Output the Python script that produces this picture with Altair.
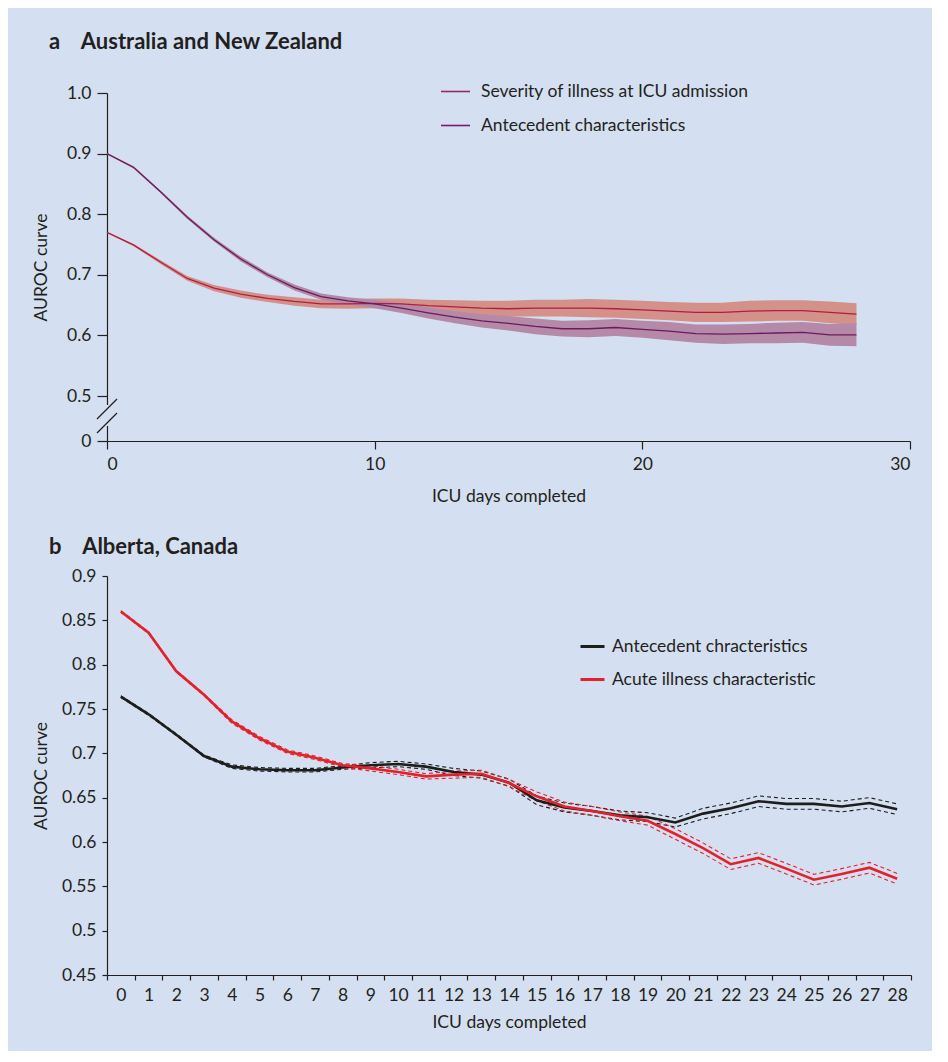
import altair as alt
import pandas as pd

BG = "#d4e0f1"
TXT = "#231f20"
FONT = "Lato"
FS = 17.5

# ---------------- Panel a: Australia and New Zealand ----------------
days_a = list(range(29))
# purple line (starts high)
ant_a = [0.900, 0.877, 0.837, 0.795, 0.758, 0.726, 0.700, 0.679, 0.664, 0.657,
         0.652, 0.645, 0.637, 0.630, 0.624, 0.620, 0.615, 0.611, 0.611, 0.613,
         0.610, 0.607, 0.603, 0.602, 0.603, 0.604, 0.605, 0.601, 0.601]
ant_a_hw = [0.001, 0.002, 0.002, 0.003, 0.003, 0.004, 0.004, 0.005, 0.005, 0.006,
            0.007, 0.008, 0.009, 0.010, 0.011, 0.012, 0.013, 0.013, 0.014, 0.014,
            0.014, 0.015, 0.015, 0.016, 0.016, 0.017, 0.017, 0.018, 0.019]
# red line (starts lower)
sev_a = [0.770, 0.749, 0.721, 0.694, 0.678, 0.668, 0.661, 0.656, 0.652, 0.652,
         0.653, 0.652, 0.649, 0.647, 0.645, 0.644, 0.645, 0.645, 0.645, 0.644,
         0.642, 0.640, 0.638, 0.638, 0.640, 0.641, 0.641, 0.638, 0.635]
sev_a_hw = [0.001, 0.002, 0.003, 0.004, 0.005, 0.006, 0.006, 0.007, 0.007, 0.008,
            0.008, 0.009, 0.010, 0.011, 0.012, 0.013, 0.014, 0.014, 0.015, 0.015,
            0.015, 0.015, 0.016, 0.016, 0.017, 0.017, 0.017, 0.018, 0.018]
series_a = ["Severity of illness at ICU admission", "Antecedent characteristics"]
line_colors_a = ["#b01e42", "#6b1a5e"]
band_colors_a = ["#d4918a", "#b48aa8"]
legend_colors_a = ["#922a6c", "#7a1a6a"]
x_ticks_a = [0, 10, 20, 30]
y_ticks_a = [0, 0.5, 0.6, 0.7, 0.8, 0.9, 1.0]

# ---------------- Panel b: Alberta, Canada ----------------
days_b = list(range(29))
ant_b = [0.764, 0.744, 0.721, 0.697, 0.685, 0.682, 0.681, 0.681, 0.684, 0.6865,
         0.688, 0.685, 0.679, 0.676, 0.667, 0.647, 0.639, 0.635, 0.630, 0.628,
         0.622, 0.632, 0.638, 0.646, 0.643, 0.643, 0.640, 0.644, 0.637]
ant_b_hw = [0.001, 0.001, 0.001, 0.001, 0.002, 0.002, 0.002, 0.002, 0.002, 0.003,
            0.003, 0.003, 0.004, 0.004, 0.004, 0.005, 0.005, 0.005, 0.005, 0.005,
            0.005, 0.006, 0.006, 0.006, 0.006, 0.006, 0.006, 0.006, 0.006]
acu_b = [0.860, 0.836, 0.7925, 0.766, 0.736, 0.717, 0.702, 0.695, 0.6865, 0.683,
         0.679, 0.674, 0.676, 0.677, 0.6665, 0.6515, 0.640, 0.635, 0.629, 0.624,
         0.609, 0.593, 0.575, 0.582, 0.570, 0.5575, 0.564, 0.571, 0.5586]
acu_b_hw = [0.001, 0.001, 0.001, 0.001, 0.002, 0.002, 0.002, 0.002, 0.002, 0.003,
            0.003, 0.003, 0.004, 0.004, 0.004, 0.005, 0.005, 0.005, 0.005, 0.005,
            0.006, 0.006, 0.006, 0.006, 0.006, 0.006, 0.006, 0.006, 0.006]
series_b = ["Antecedent chracteristics", "Acute illness characteristic"]
line_colors_b = ["#1d1d1b", "#e3212b"]
y_ticks_b = [0.45, 0.5, 0.55, 0.6, 0.65, 0.7, 0.75, 0.8, 0.85, 0.9]


def long_frame(days, pairs):
    rows = []
    for name, vals, hws in pairs:
        for d, v, h in zip(days, vals, hws):
            rows.append({"day": d, "series": name, "auc": v, "lo": v - h, "hi": v + h})
    return pd.DataFrame(rows)


df_a = long_frame(days_a, [(series_a[0], sev_a, sev_a_hw), (series_a[1], ant_a, ant_a_hw)])
df_b = long_frame(days_b, [(series_b[0], ant_b, ant_b_hw), (series_b[1], acu_b, acu_b_hw)])

# ---------- panel a chart ----------
W_A, H_A = 803, 348
x_a = alt.X("day:Q", scale=alt.Scale(domain=[0, 30], nice=False),
            axis=alt.Axis(values=x_ticks_a, title="ICU days completed", tickSize=8,
                          labelPadding=6, titlePadding=15, format="d"))
y_scale_a = alt.Scale(domain=[0, 0.5, 1.0], range=[H_A, 303, 0], nice=False, zero=False)
y_axis_a = alt.Axis(values=y_ticks_a, title="AUROC curve", tickSize=10, labelPadding=6,
                    titlePadding=16,
                    labelExpr="datum.value == 0 ? '0' : format(datum.value, '.1f')")

base_a = alt.Chart(df_a)
band_a = base_a.mark_area(opacity=1).encode(
    x=x_a,
    y=alt.Y("lo:Q", scale=y_scale_a, axis=y_axis_a),
    y2="hi:Q",
    color=alt.Color("series:N", scale=alt.Scale(domain=series_a, range=band_colors_a), legend=None),
)
line_a = base_a.mark_line(strokeWidth=1.3).encode(
    x=x_a,
    y=alt.Y("auc:Q", scale=y_scale_a, axis=y_axis_a),
    color=alt.Color("series:N", scale=alt.Scale(domain=series_a, range=line_colors_a), legend=None),
)
legend_a = base_a.mark_line().transform_filter("false").encode(
    x=x_a,
    y=alt.Y("auc:Q", scale=y_scale_a, axis=y_axis_a),
    color=alt.Color("series:N", sort=series_a,
                    scale=alt.Scale(domain=series_a, range=legend_colors_a),
                    legend=alt.Legend(title=None, orient="none", legendX=333, legendY=-17,
                                      symbolType="stroke", symbolSize=841, symbolStrokeWidth=1.6,
                                      labelOffset=10, rowPadding=10, padding=0,
                                      labelFontSize=FS, labelFont=FONT, labelColor=TXT,
                                      labelLimit=400)),
)
marker_df = pd.DataFrame({"k": [0]})
gap_a = alt.Chart(marker_df).mark_rect(color=BG).encode(
    x=alt.value(-2), x2=alt.value(2), y=alt.value(312), y2=alt.value(333))
slash1 = alt.Chart(marker_df).mark_rule(color=TXT, strokeWidth=1.2).encode(
    x=alt.value(-10), x2=alt.value(10), y=alt.value(326), y2=alt.value(306))
slash2 = alt.Chart(marker_df).mark_rule(color=TXT, strokeWidth=1.2).encode(
    x=alt.value(-10), x2=alt.value(10), y=alt.value(340), y2=alt.value(320))

chart_a = alt.layer(band_a, line_a, legend_a, gap_a, slash1, slash2).resolve_scale(
    color="independent"
).properties(
    width=W_A, height=H_A,
    title=alt.TitleParams("a\u00a0\u00a0\u00a0\u00a0Australia and New Zealand",
                          anchor="start", frame="group", dx=-58, offset=22,
                          fontSize=22, font=FONT, fontWeight="bold", color=TXT),
)

# ---------- panel b chart ----------
W_B, H_B = 804, 399
x_b = alt.X("day:O", bandPosition=0.5,
            scale=alt.Scale(type="band", paddingInner=0, paddingOuter=0),
            axis=alt.Axis(title="ICU days completed", tickBand="extent", tickSize=5,
                          labelAngle=0, labelPadding=6, titlePadding=10))
y_scale_b = alt.Scale(domain=[0.45, 0.9], nice=False, zero=False)
y_axis_b = alt.Axis(values=y_ticks_b, title="AUROC curve", tickSize=5, labelPadding=6,
                    titlePadding=11, labelExpr="format(datum.value, '.2~f')")
color_b = alt.Color("series:N", scale=alt.Scale(domain=series_b, range=line_colors_b), legend=None)

base_b = alt.Chart(df_b)
lo_b = base_b.mark_line(strokeWidth=1.1, strokeDash=[4, 3]).encode(
    x=x_b, y=alt.Y("lo:Q", scale=y_scale_b, axis=y_axis_b), color=color_b)
hi_b = base_b.mark_line(strokeWidth=1.1, strokeDash=[4, 3]).encode(
    x=x_b, y=alt.Y("hi:Q", scale=y_scale_b, axis=y_axis_b), color=color_b)
line_b = base_b.mark_line(strokeWidth=2.6).encode(
    x=x_b, y=alt.Y("auc:Q", scale=y_scale_b, axis=y_axis_b), color=color_b)
legend_b = base_b.mark_line().transform_filter("false").encode(
    x=x_b,
    y=alt.Y("auc:Q", scale=y_scale_b, axis=y_axis_b),
    color=alt.Color("series:N", sort=series_b,
                    scale=alt.Scale(domain=series_b, range=line_colors_b),
                    legend=alt.Legend(title=None, orient="none", legendX=472, legendY=57,
                                      symbolType="stroke", symbolSize=576, symbolStrokeWidth=3,
                                      labelOffset=6, rowPadding=11, padding=0,
                                      labelFontSize=FS, labelFont=FONT, labelColor=TXT,
                                      labelLimit=400)),
)

chart_b = alt.layer(lo_b, hi_b, line_b, legend_b).resolve_scale(
    color="independent"
).properties(
    width=W_B, height=H_B,
    title=alt.TitleParams("b\u00a0\u00a0\u00a0\u00a0Alberta, Canada",
                          anchor="start", frame="group", dx=-58, offset=8,
                          fontSize=22, font=FONT, fontWeight="bold", color=TXT),
)

chart = alt.vconcat(chart_a, chart_b, spacing=31).properties(
    background=BG,
    padding={"left": 24, "top": 23, "right": 20, "bottom": 20},
).configure_view(stroke=None).configure_axis(
    grid=False, domainColor=TXT, tickColor=TXT, domainWidth=1.2, tickWidth=1.2,
    labelColor=TXT, titleColor=TXT, labelFont=FONT, titleFont=FONT,
    labelFontSize=FS, titleFontSize=FS, titleFontWeight="normal",
)

chart.save("out.html", embed_options={"renderer": "svg", "actions": False})
